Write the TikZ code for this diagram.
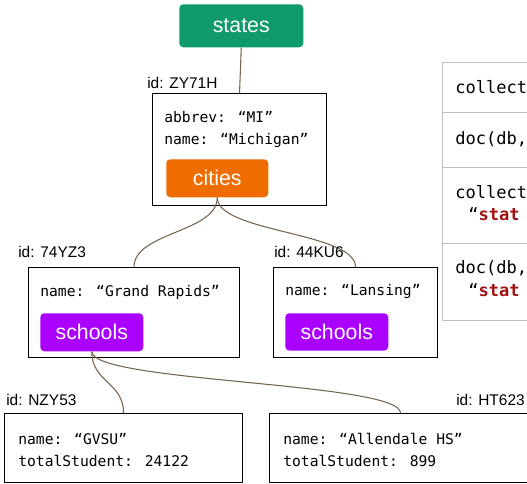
\documentclass[tikz,border=0pt]{standalone}
\usepackage{fontspec}
\setmainfont{Liberation Sans}
\newfontfamily\codefont{DejaVu Sans Mono}
\definecolor{stategreen}{RGB}{14,154,107}
\definecolor{cityorange}{RGB}{239,108,0}
\definecolor{schoolpurple}{RGB}{170,0,255}
\definecolor{linkbrown}{RGB}{118,100,78}
\definecolor{tablegray}{RGB}{190,190,190}
\definecolor{keyred}{RGB}{160,18,18}
\tikzset{
  docbox/.style={draw=black, line width=0.8pt, fill=white, anchor=north west, inner sep=0pt},
  collbox/.style={rounded corners=3pt, anchor=north west, inner sep=0pt, text=white,
    font=\fontsize{16}{18}\selectfont},
  idlabel/.style={anchor=base west, inner sep=0pt, font=\fontsize{11.6}{14}\selectfont},
  field/.style={anchor=base west, inner sep=0pt, font=\codefont\fontsize{11}{13}\selectfont},
  cell/.style={draw=tablegray, line width=1pt, anchor=north west, inner sep=0pt, minimum width=120pt},
  celltext/.style={anchor=base west, inner sep=0pt, font=\codefont\fontsize{12.8}{15}\selectfont},
  link/.style={draw=linkbrown, line width=0.8pt}
}
\begin{document}
\begin{tikzpicture}[x=0.75pt,y=-0.75pt]
  \useasboundingbox (0,0) rectangle (527,483);
  \clip (0,0) rectangle (527,483);

  % collection root
  \node[collbox, fill=stategreen, minimum width=93pt, minimum height=32.25pt] (states) at (179,4) {states};

  % state document
  \node[docbox, minimum width=130.5pt, minimum height=84pt] (mi) at (152,93) {};
  \node[idlabel] (miid) at (147,88) {id: ZY71H};
  \node[field] (miabbr) at (164,122) {abbrev: “MI”};
  \node[field] (miname) at (164,144) {name: “Michigan”};
  \node[collbox, fill=cityorange, minimum width=76.5pt, minimum height=28.5pt] (cities) at (166,159) {cities};

  % city documents
  \node[docbox, minimum width=158.25pt, minimum height=67.5pt] (gr) at (28,267) {};
  \node[idlabel] (grid) at (18,257) {id: 74YZ3};
  \node[field] (grname) at (40,296) {name: “Grand Rapids”};
  \node[collbox, fill=schoolpurple, minimum width=77.25pt, minimum height=28.5pt] (grschools) at (40,313) {schools};

  \node[docbox, minimum width=123pt, minimum height=67.5pt] (lan) at (273,267) {};
  \node[field] (lanname) at (285,295) {name: “Lansing”};
  \node[collbox, fill=schoolpurple, minimum width=77.25pt, minimum height=28pt] (lanschools) at (285,313) {schools};

  % school documents
  \node[docbox, minimum width=178.5pt, minimum height=51.75pt] (gvsu) at (4,413) {};
  \node[idlabel] (gvsuid) at (6,405) {id: NZY53};
  \node[field] (gvsuname) at (18,444) {name: “GVSU”};
  \node[field] (gvsutot) at (18,466) {totalStudent: 24122};

  \node[docbox, minimum width=196.5pt, minimum height=51.75pt] (hs) at (269,413) {};
  \node[idlabel] (hsid) at (456,405) {id: HT623};
  \node[field] (hsname) at (283,444) {name: “Allendale HS”};
  \node[field] (hstot) at (283,466) {totalStudent: 899};

  % links between collections and documents
  \draw[link] (states.south) -- (mi.north);
  \draw[link] (cities.south) .. controls +(0,35) and +(0,-35) .. (gr.north);
  \draw[link] (cities.south) .. controls +(0,35) and +(0,-35) .. (lan.north);
  \node[idlabel] (lanid) at (274,257) {id: 44KU6};
  \draw[link] (grschools.south) .. controls +(0,31) and +(0,-31) .. (gvsu.north);
  \draw[link] (grschools.south) .. controls +(0,31) and +(0,-31) .. (hs.north);

  % reference table
  \node[cell, minimum height=37.5pt] (row1) at (442,62) {};
  \node[cell, minimum height=41.25pt] (row2) at (442,112) {};
  \node[cell, minimum height=57pt] (row3) at (442,167) {};
  \node[cell, minimum height=57.75pt] (row4) at (442,243) {};
  \node[celltext] (r1a) at (455,93) {collect};
  \node[celltext] (r2a) at (455,144) {doc(db,};
  \node[celltext] (r3a) at (455,198) {collect};
  \node[celltext] (r3b) at (468,220) {“\textcolor{keyred}{\bfseries stat}};
  \node[celltext] (r4a) at (455,273) {doc(db,};
  \node[celltext] (r4b) at (468,296) {“\textcolor{keyred}{\bfseries stat}};
\end{tikzpicture}
\end{document}
